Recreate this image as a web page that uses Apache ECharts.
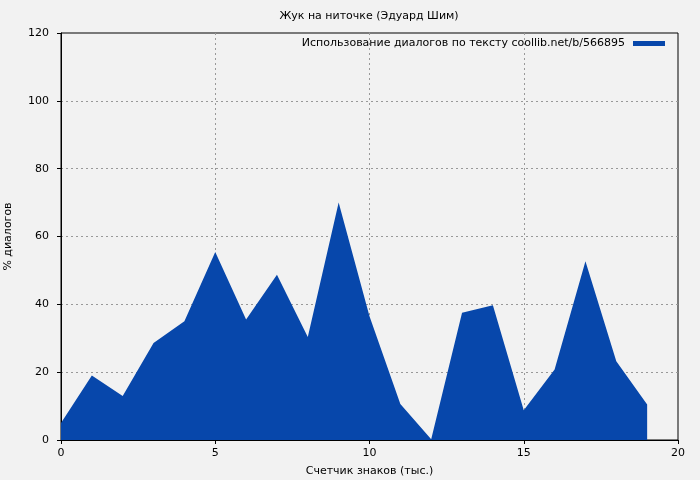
<!DOCTYPE html>
<html><head><meta charset="utf-8">
<script src="https://cdn.jsdelivr.net/npm/echarts@6/dist/echarts.min.js"></script>
<style>html,body{margin:0;padding:0;background:#f2f2f2}#c{width:700px;height:480px}</style>
</head><body><div id="c"></div>
<script>
var xValues = [0,1,2,3,4,5,6,7,8,9,10,11,12,13,14,15,16,17,18,19];
var dialogPct = [5,19,13,28.6,35,55.4,35.5,48.7,30.4,70,36.5,10.6,0.2,37.5,39.7,8.8,20.8,52.7,23.2,10.5];
var titleText = 'Жук на ниточке (Эдуард Шим)';
var seriesName = 'Использование диалогов по тексту coollib.net/b/566895';
var xName = 'Счетчик знаков (тыс.)';
var yName = '% диалогов';

var font = 'DejaVu Sans';
var chart = echarts.init(document.getElementById('c'), null, {renderer:'canvas'});
chart.setOption({
  backgroundColor:'#f2f2f2',
  animation:false,
  textStyle:{fontFamily:font},
  title:{text:titleText, left:369, top:11, textAlign:'center', padding:0,
    textStyle:{fontSize:11, fontWeight:'normal', color:'#000', fontFamily:font}},
  legend:{show:true, right:35, top:38, padding:0, align:'right', itemWidth:32, itemHeight:5, itemGap:8,
    icon:'rect',
    textStyle:{fontSize:11, color:'#000', fontFamily:font, padding:[0,3,0,0]},
    data:[{name:seriesName, itemStyle:{color:'#0747ab'}}]},
  grid:{left:61, right:22, top:33, bottom:40, containLabel:false, outerBoundsMode:'none',
    show:true, borderColor:'#000', borderWidth:1, backgroundColor:'transparent'},
  xAxis:{type:'value', min:0, max:20, interval:5,
    name:xName, nameLocation:'middle', nameGap:26,
    nameTextStyle:{fontSize:11,color:'#000',fontFamily:font},
    axisLine:{show:true, lineStyle:{color:'#000'}},
    axisTick:{show:true, length:4, lineStyle:{color:'#000'}},
    axisLabel:{fontSize:11,color:'#000',fontFamily:font, margin:8},
    splitLine:{show:true, showMinLine:false, showMaxLine:false, lineStyle:{color:'#999', type:[2,3], width:1}}},
  yAxis:{type:'value', min:0, max:120, interval:20,
    name:yName, nameLocation:'middle', nameGap:47, nameRotate:90,
    nameTextStyle:{fontSize:11,color:'#000',fontFamily:font},
    axisLine:{show:true, lineStyle:{color:'#000'}},
    axisTick:{show:true, length:4, lineStyle:{color:'#000'}},
    axisLabel:{fontSize:11,color:'#000',fontFamily:font, margin:12},
    splitLine:{show:true, showMinLine:false, showMaxLine:false, lineStyle:{color:'#999', type:[2,3], width:1}}},
  series:[{name:seriesName, type:'line', showSymbol:false, symbol:'none',
    data:xValues.map(function(x,i){return [x, dialogPct[i]];}),
    lineStyle:{width:0, color:'#0747ab'},
    itemStyle:{color:'#0747ab'},
    areaStyle:{color:'#0747ab', opacity:1}}]
});
</script></body></html>
